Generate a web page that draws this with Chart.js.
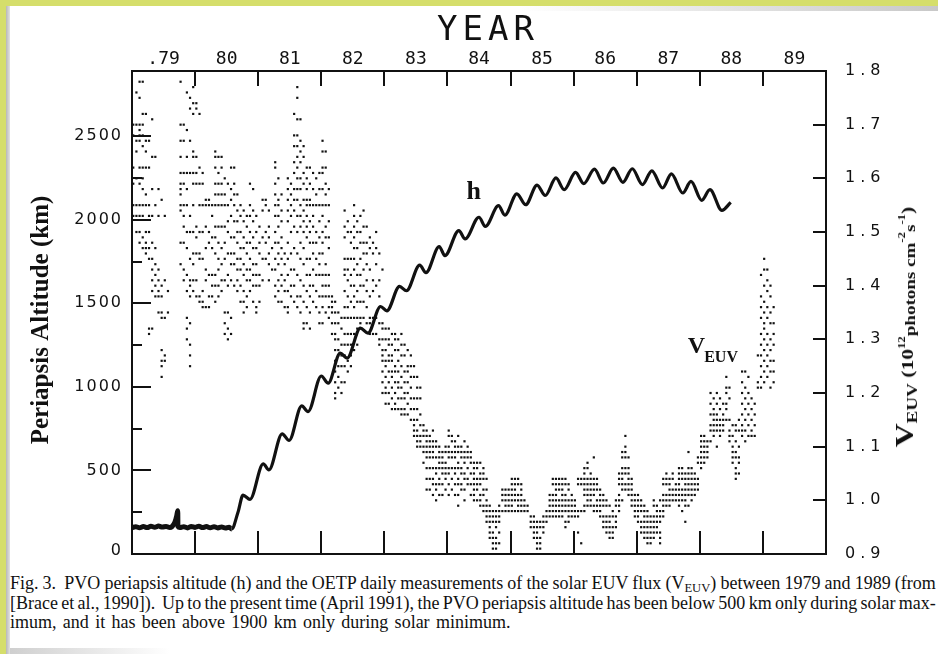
<!DOCTYPE html>
<html>
<head>
<meta charset="utf-8">
<title>PVO periapsis altitude and EUV flux</title>
<script src="https://cdn.jsdelivr.net/npm/chart.js@4.4.1/dist/chart.umd.min.js"></script>
<style>
  html, body { margin: 0; padding: 0; background: #fff; }
  #page { position: relative; width: 938px; height: 654px; overflow: hidden; background: #fff; }
  .edge { position: absolute; background: #d5de6b; }
  #edgeTop { left: 0; top: 0; width: 938px; height: 6px; }
  #edgeLeft { left: 0; top: 0; width: 6px; height: 654px; }
  #shadeLeft { position: absolute; left: 6px; top: 6px; width: 4px; height: 648px; background: linear-gradient(to right, #b8b8b8, #e2e2e2); }
  #shadeTop { position: absolute; left: 520px; top: 6px; width: 418px; height: 5px; background: linear-gradient(to right, rgba(200,200,200,0), #c8c8c8); }
  #shadeBottom { position: absolute; left: 10px; top: 648px; width: 160px; height: 6px; background: linear-gradient(to right, #cfcfcf, rgba(220,220,220,0)); }
  #chart { position: absolute; left: 0; top: 0; }
  #fluxTitle { position: absolute; left: 905px; top: 327px; white-space: nowrap; color: #111;
               font-family: "Liberation Serif", serif; font-weight: bold; font-size: 17px; line-height: 1; }
  #fluxTitle .v { font-size: 26px; }
  #fluxTitle .sb { font-size: 15px; position: relative; top: 4px; }
  #fluxTitle .sp { font-size: 10px; position: relative; top: -8px; }
  #fluxTitle .lo { font-size: 15px; position: relative; top: 2px; }
  #caption { position: absolute; left: 10px; top: 574px; color: #111;
             font-family: "Liberation Serif", serif; font-size: 18px; line-height: 19.5px; }
  #caption .line { width: max-content; white-space: nowrap; }
  #caption sub { font-size: 70%; line-height: 0; vertical-align: -3px; }
</style>
</head>
<body>
<div id="page">
  <div class="edge" id="edgeTop"></div>
  <div class="edge" id="edgeLeft"></div>
  <div id="shadeLeft"></div>
  <div id="shadeTop"></div>
  <div id="shadeBottom"></div>
  <canvas id="chart" width="938" height="566"></canvas>
  <div id="fluxTitle"><span class="v">V</span><span class="sb">EUV</span> (10<span class="sp">12</span><span class="lo">photons cm</span><span class="sp">-2</span><span class="lo">s</span><span class="sp">-1</span>)</div>
  <div id="caption">
    <div class="line" data-width="926">Fig. 3.&nbsp; PVO periapsis altitude (h) and the OETP daily measurements of the solar EUV flux (V<sub>EUV</sub>) between 1979 and 1989 (from</div>
    <div class="line" data-width="926">[Brace et al., 1990]).&nbsp; Up to the present time (April 1991), the PVO periapsis altitude has been below 500 km only during solar max-</div>
    <div class="line" data-width="500">imum, and it has been above 1900 km only during solar minimum.</div>
  </div>
</div>
<script>
// Year axis: tick marks on whole years, labels centred on each year
const yearTicks = [1980, 1981, 1982, 1983, 1984, 1985, 1986, 1987, 1988, 1989];
const yearLabelPos = [1979.5, 1980.5, 1981.5, 1982.5, 1983.5, 1984.5, 1985.5, 1986.5, 1987.5, 1988.5, 1989.5];
const yearLabels = ['.79', '80', '81', '82', '83', '84', '85', '86', '87', '88', '89'];

// Left axis (km) and right axis (10^12 photons cm^-2 s^-1)
const altitudeTicks = [0, 500, 1000, 1500, 2000, 2500];
const altitudeMinor = [250, 750, 1250, 1750, 2250];
const fluxTicks = [0.9, 1.0, 1.1, 1.2, 1.3, 1.4, 1.5, 1.6, 1.7, 1.8];

// Periapsis altitude h: turning points of the curve
const hYears = [
  1979.00, 1979.06, 1979.12, 1979.18, 1979.24, 1979.30, 1979.36, 1979.42, 1979.48, 1979.54, 1979.60,
  1979.63, 1979.68, 1979.71, 1979.725, 1979.728, 1979.76, 1979.82, 1979.88, 1979.94, 1980.00, 1980.06,
  1980.12, 1980.18, 1980.24, 1980.30, 1980.36, 1980.42, 1980.48, 1980.54, 1980.58, 1980.68, 1980.76,
  1980.87, 1981.08, 1981.17, 1981.38, 1981.49, 1981.69, 1981.79, 1982.00, 1982.11, 1982.30, 1982.41,
  1982.62, 1982.74, 1982.94, 1983.04, 1983.24, 1983.35, 1983.56, 1983.66, 1983.87, 1983.96, 1984.18,
  1984.28, 1984.50, 1984.60, 1984.81, 1984.91, 1985.10, 1985.24, 1985.42, 1985.55, 1985.72, 1985.85,
  1986.03, 1986.16, 1986.33, 1986.47, 1986.63, 1986.78, 1986.93, 1987.09, 1987.24, 1987.41, 1987.55,
  1987.73, 1987.86, 1988.03, 1988.16, 1988.35, 1988.49
];
const hKm = [
  158, 163, 157, 164, 158, 166, 160, 167, 161, 165, 158,
  162, 190, 230, 259, 165, 158, 163, 156, 165, 159, 166,
  158, 164, 157, 163, 156, 162, 155, 160, 150, 250, 352,
  327, 539, 503, 719, 679, 886, 852, 1065, 1022, 1202, 1172,
  1351, 1321, 1481, 1455, 1601, 1575, 1728, 1683, 1840, 1785, 1935,
  1885, 2015, 1960, 2084, 2027, 2155, 2090, 2207, 2145, 2250, 2180,
  2283, 2216, 2303, 2220, 2309, 2224, 2305, 2210, 2293, 2190, 2274,
  2160, 2229, 2116, 2180, 2056, 2104
];

// Daily V_EUV readings, grouped by time column
const euvYears = [
  1979.02, 1979.07, 1979.12, 1979.17, 1979.22, 1979.27, 1979.32, 1979.37, 1979.42, 1979.47, 1979.52, 1979.57,
  1979.77, 1979.82, 1979.87, 1979.92, 1979.97, 1980.02, 1980.07, 1980.12, 1980.17, 1980.22, 1980.27, 1980.32,
  1980.37, 1980.42, 1980.47, 1980.52, 1980.57, 1980.62, 1980.67, 1980.72, 1980.77, 1980.82, 1980.87, 1980.92,
  1980.97, 1981.02, 1981.07, 1981.12, 1981.17, 1981.22, 1981.27, 1981.32, 1981.37, 1981.42, 1981.47, 1981.52,
  1981.57, 1981.62, 1981.67, 1981.72, 1981.77, 1981.82, 1981.87, 1981.92, 1981.97, 1982.02, 1982.07, 1982.12,
  1982.17, 1982.22, 1982.27, 1982.32, 1982.37, 1982.42, 1982.47, 1982.52, 1982.57, 1982.62, 1982.67, 1982.72,
  1982.77, 1982.82, 1982.87, 1982.92, 1982.97, 1983.02, 1983.07, 1983.12, 1983.17, 1983.22, 1983.27, 1983.32,
  1983.37, 1983.42, 1983.47, 1983.52, 1983.57, 1983.62, 1983.67, 1983.72, 1983.77, 1983.82, 1983.87, 1983.92,
  1983.97, 1984.02, 1984.07, 1984.12, 1984.17, 1984.22, 1984.27, 1984.32, 1984.37, 1984.42, 1984.47, 1984.52,
  1984.57, 1984.62, 1984.67, 1984.72, 1984.77, 1984.82, 1984.87, 1984.92, 1984.97, 1985.02, 1985.07, 1985.12,
  1985.17, 1985.22, 1985.27, 1985.32, 1985.37, 1985.42, 1985.47, 1985.52, 1985.57, 1985.62, 1985.67, 1985.72,
  1985.77, 1985.82, 1985.87, 1985.92, 1985.97, 1986.02, 1986.07, 1986.12, 1986.17, 1986.22, 1986.27, 1986.32,
  1986.37, 1986.42, 1986.47, 1986.52, 1986.57, 1986.62, 1986.67, 1986.72, 1986.77, 1986.82, 1986.87, 1986.92,
  1986.97, 1987.02, 1987.07, 1987.12, 1987.17, 1987.22, 1987.27, 1987.32, 1987.37, 1987.42, 1987.47, 1987.52,
  1987.57, 1987.62, 1987.67, 1987.72, 1987.77, 1987.82, 1987.87, 1987.92, 1987.97, 1988.02, 1988.07, 1988.12,
  1988.17, 1988.22, 1988.27, 1988.32, 1988.37, 1988.42, 1988.47, 1988.52, 1988.57, 1988.62, 1988.67, 1988.72,
  1988.77, 1988.82, 1988.87, 1988.92, 1988.97, 1989.02, 1989.07, 1989.12, 1989.17
];
const euvFlux = [
  [1.70, 1.68, 1.62, 1.59, 1.55, 1.53],
  [1.76, 1.70, 1.67, 1.65, 1.60, 1.55, 1.53, 1.50],
  [1.78, 1.75, 1.70, 1.69, 1.68, 1.67, 1.62, 1.59, 1.55, 1.53, 1.50, 1.48],
  [1.78, 1.72, 1.70, 1.68, 1.66, 1.62, 1.60, 1.58, 1.55, 1.53, 1.49, 1.47],
  [1.72, 1.67, 1.65, 1.62, 1.57, 1.55, 1.50, 1.48, 1.47, 1.46],
  [1.67, 1.62, 1.55, 1.53, 1.50, 1.47, 1.45, 1.32, 1.31],
  [1.71, 1.64, 1.58, 1.53, 1.48, 1.45, 1.43, 1.41, 1.39, 1.32],
  [1.64, 1.55, 1.47, 1.44, 1.42, 1.40, 1.38],
  [1.58, 1.53, 1.43, 1.41, 1.39, 1.38, 1.35],
  [1.56, 1.40, 1.38, 1.35, 1.34, 1.28, 1.26, 1.25, 1.23],
  [1.53, 1.41, 1.34, 1.27, 1.26],
  [1.39, 1.35],
  [1.78, 1.70, 1.67, 1.64, 1.61, 1.59, 1.58, 1.57, 1.55, 1.54, 1.48, 1.44],
  [1.70, 1.67, 1.61, 1.59, 1.55, 1.53, 1.51, 1.48, 1.43, 1.41],
  [1.76, 1.69, 1.64, 1.61, 1.58, 1.55, 1.50, 1.47, 1.42, 1.39, 1.34, 1.32, 1.30],
  [1.75, 1.73, 1.67, 1.61, 1.53, 1.50, 1.45, 1.41, 1.40, 1.38, 1.33, 1.29, 1.27, 1.25],
  [1.77, 1.74, 1.72, 1.65, 1.64, 1.61, 1.59, 1.55, 1.50, 1.46, 1.44, 1.41, 1.39],
  [1.74, 1.73, 1.64, 1.61, 1.59, 1.51, 1.49, 1.46, 1.41, 1.38],
  [1.72, 1.62, 1.59, 1.55, 1.50, 1.46, 1.45, 1.38, 1.37],
  [1.61, 1.59, 1.55, 1.50, 1.45, 1.39, 1.37, 1.36],
  [1.56, 1.55, 1.51, 1.47, 1.43, 1.41, 1.36],
  [1.56, 1.55, 1.50, 1.48, 1.42, 1.38, 1.36],
  [1.55, 1.53, 1.49, 1.47, 1.42, 1.40, 1.38],
  [1.65, 1.64, 1.62, 1.59, 1.57, 1.55, 1.51, 1.49, 1.46, 1.42, 1.40, 1.37],
  [1.64, 1.61, 1.59, 1.57, 1.55, 1.51, 1.48, 1.45, 1.43, 1.40, 1.38],
  [1.64, 1.62, 1.59, 1.57, 1.55, 1.51, 1.47, 1.44, 1.41, 1.39],
  [1.60, 1.57, 1.55, 1.51, 1.48, 1.45, 1.41, 1.35, 1.33, 1.31],
  [1.59, 1.55, 1.52, 1.50, 1.46, 1.42, 1.40, 1.35, 1.32, 1.30],
  [1.62, 1.58, 1.56, 1.53, 1.49, 1.46, 1.44, 1.41, 1.34, 1.31],
  [1.62, 1.59, 1.57, 1.55, 1.52, 1.49, 1.46, 1.44, 1.40],
  [1.57, 1.54, 1.52, 1.50, 1.48, 1.45, 1.43, 1.41, 1.39],
  [1.55, 1.53, 1.50, 1.47, 1.45, 1.43, 1.40, 1.37],
  [1.54, 1.52, 1.49, 1.47, 1.44, 1.42, 1.39, 1.37, 1.35],
  [1.53, 1.51, 1.48, 1.46, 1.43, 1.41, 1.38, 1.36],
  [1.59, 1.55, 1.53, 1.50, 1.48, 1.45, 1.43, 1.41, 1.39],
  [1.58, 1.54, 1.52, 1.49, 1.47, 1.44, 1.42, 1.40, 1.37],
  [1.53, 1.50, 1.47, 1.44, 1.42, 1.40, 1.36, 1.35],
  [1.51, 1.48, 1.46, 1.42, 1.40, 1.37],
  [1.56, 1.54, 1.49, 1.45, 1.41],
  [1.56, 1.55, 1.50, 1.48, 1.45],
  [1.54, 1.51, 1.49, 1.46, 1.44, 1.41],
  [1.47, 1.43],
  [1.63, 1.62, 1.59, 1.57, 1.55, 1.53, 1.50, 1.48, 1.45, 1.43, 1.40, 1.38],
  [1.60, 1.56, 1.55, 1.53, 1.51, 1.48, 1.46, 1.44, 1.41, 1.39, 1.37],
  [1.57, 1.54, 1.52, 1.49, 1.47, 1.45, 1.42, 1.40, 1.37],
  [1.46, 1.44, 1.41, 1.39, 1.36],
  [1.60, 1.58, 1.56, 1.54, 1.52, 1.48, 1.45, 1.42, 1.39, 1.36, 1.35],
  [1.59, 1.57, 1.55, 1.53, 1.50, 1.46, 1.43, 1.40, 1.38],
  [1.72, 1.68, 1.66, 1.63, 1.61, 1.58, 1.56, 1.54, 1.51, 1.47, 1.43, 1.40, 1.37],
  [1.77, 1.75, 1.71, 1.68, 1.66, 1.64, 1.62, 1.60, 1.58, 1.56, 1.53, 1.50, 1.46, 1.42, 1.38, 1.36],
  [1.71, 1.67, 1.65, 1.63, 1.60, 1.58, 1.55, 1.53, 1.51, 1.48, 1.45, 1.41, 1.38, 1.35],
  [1.66, 1.64, 1.61, 1.59, 1.56, 1.54, 1.52, 1.50, 1.47, 1.44, 1.40, 1.37, 1.33, 1.32],
  [1.62, 1.60, 1.58, 1.56, 1.55, 1.53, 1.51, 1.49, 1.45, 1.42, 1.39, 1.36, 1.33],
  [1.62, 1.59, 1.56, 1.55, 1.52, 1.50, 1.48, 1.45, 1.42, 1.40, 1.38, 1.35, 1.32],
  [1.61, 1.58, 1.55, 1.53, 1.51, 1.48, 1.46, 1.43, 1.40, 1.37],
  [1.60, 1.57, 1.55, 1.50, 1.48, 1.45, 1.42, 1.39, 1.36],
  [1.61, 1.58, 1.55, 1.52, 1.49, 1.46, 1.44, 1.42, 1.38, 1.35, 1.33],
  [1.67, 1.65, 1.62, 1.61, 1.58, 1.55, 1.53, 1.50, 1.48, 1.46, 1.42, 1.40, 1.38, 1.36, 1.33],
  [1.65, 1.62, 1.59, 1.57, 1.55, 1.51, 1.49, 1.44, 1.42, 1.40, 1.38, 1.35],
  [1.58, 1.55, 1.52, 1.49, 1.47, 1.42, 1.40, 1.38, 1.36, 1.34],
  [1.38, 1.37, 1.36, 1.35, 1.33, 1.31],
  [1.37, 1.35, 1.33, 1.31, 1.30, 1.28, 1.26, 1.24, 1.22, 1.20, 1.19],
  [1.35, 1.33, 1.30, 1.28, 1.27, 1.25, 1.23, 1.21],
  [1.34, 1.32, 1.29, 1.27, 1.25, 1.22, 1.20],
  [1.54, 1.51, 1.49, 1.45, 1.43, 1.42, 1.39, 1.36, 1.34, 1.31, 1.29, 1.27, 1.25, 1.22],
  [1.52, 1.50, 1.45, 1.43, 1.41, 1.38, 1.36, 1.34, 1.31, 1.29, 1.26, 1.24],
  [1.50, 1.48, 1.45, 1.42, 1.40, 1.37, 1.34, 1.31, 1.29, 1.27, 1.25],
  [1.55, 1.53, 1.51, 1.49, 1.47, 1.45, 1.43, 1.40, 1.38, 1.36, 1.34, 1.31, 1.28],
  [1.52, 1.50, 1.47, 1.44, 1.42, 1.39, 1.37, 1.34, 1.32, 1.29],
  [1.53, 1.50, 1.48, 1.45, 1.42, 1.40, 1.37, 1.34, 1.33],
  [1.54, 1.51, 1.48, 1.46, 1.43, 1.40, 1.37, 1.34],
  [1.51, 1.48, 1.46, 1.44, 1.41, 1.39, 1.36, 1.33],
  [1.49, 1.47, 1.43, 1.38, 1.34, 1.33, 1.31],
  [1.48, 1.46, 1.41, 1.39, 1.34, 1.31],
  [1.50, 1.47, 1.44, 1.40, 1.34, 1.31],
  [1.46, 1.41, 1.38, 1.33, 1.30, 1.29],
  [1.43, 1.33, 1.32, 1.30, 1.28, 1.27, 1.26, 1.24, 1.22, 1.20],
  [1.32, 1.30, 1.28, 1.26, 1.25, 1.23, 1.21, 1.20, 1.18],
  [1.32, 1.30, 1.29, 1.27, 1.26, 1.24, 1.22, 1.20, 1.18],
  [1.31, 1.29, 1.27, 1.26, 1.24, 1.23, 1.21, 1.19, 1.17],
  [1.31, 1.30, 1.28, 1.25, 1.24, 1.22, 1.20, 1.18, 1.17],
  [1.30, 1.28, 1.26, 1.24, 1.22, 1.21, 1.19, 1.17],
  [1.31, 1.29, 1.27, 1.25, 1.23, 1.21, 1.19, 1.17, 1.16],
  [1.29, 1.27, 1.24, 1.22, 1.20, 1.19, 1.17, 1.16],
  [1.28, 1.25, 1.24, 1.22, 1.20, 1.18, 1.16],
  [1.27, 1.25, 1.23, 1.21, 1.19, 1.17, 1.15],
  [1.25, 1.23, 1.19, 1.17, 1.15, 1.14, 1.13, 1.12],
  [1.23, 1.21, 1.19, 1.17, 1.15, 1.13, 1.12, 1.11, 1.10],
  [1.21, 1.19, 1.16, 1.14, 1.12, 1.11, 1.10],
  [1.14, 1.13, 1.12, 1.10, 1.09, 1.07],
  [1.13, 1.12, 1.11, 1.10, 1.09, 1.08, 1.06, 1.04, 1.02],
  [1.12, 1.11, 1.10, 1.09, 1.08, 1.06, 1.04, 1.02],
  [1.13, 1.11, 1.10, 1.09, 1.08, 1.06, 1.04, 1.03, 1.01],
  [1.11, 1.10, 1.08, 1.06, 1.05, 1.03, 1.02, 1.00],
  [1.10, 1.09, 1.08, 1.07, 1.06, 1.04, 1.03, 1.01],
  [1.09, 1.08, 1.07, 1.06, 1.05, 1.03, 1.01],
  [1.10, 1.09, 1.07, 1.06, 1.05, 1.04, 1.02],
  [1.13, 1.12, 1.10, 1.09, 1.08, 1.06, 1.05, 1.03, 1.01],
  [1.12, 1.11, 1.09, 1.08, 1.06, 1.04, 1.02],
  [1.11, 1.10, 1.09, 1.08, 1.06, 1.05, 1.03, 1.01],
  [1.12, 1.10, 1.09, 1.07, 1.06, 1.04, 1.03, 1.01, 0.99],
  [1.10, 1.09, 1.08, 1.06, 1.05, 1.03, 1.02],
  [1.11, 1.09, 1.08, 1.07, 1.05, 1.04, 1.02, 1.00],
  [1.10, 1.09, 1.08, 1.06, 1.04, 1.03],
  [1.09, 1.08, 1.07, 1.05, 1.03, 1.01],
  [1.07, 1.06, 1.05, 1.04, 1.03, 1.02, 1.01, 1.00],
  [1.07, 1.06, 1.04, 1.03, 1.02, 1.00],
  [1.07, 1.05, 1.04, 1.03, 1.01, 1.00, 0.99],
  [1.06, 1.05, 1.04, 1.02, 1.01, 0.99, 0.98],
  [1.04, 1.02, 1.00, 0.99, 0.98, 0.97, 0.96],
  [0.99, 0.98, 0.97, 0.96, 0.95, 0.94, 0.93],
  [0.98, 0.97, 0.96, 0.94, 0.93, 0.92, 0.91],
  [0.98, 0.97, 0.96, 0.95, 0.93, 0.92, 0.91],
  [0.99, 0.98, 0.97, 0.96, 0.94, 0.92],
  [1.02, 1.01, 1.00, 0.98],
  [1.02, 1.01, 1.00, 0.99, 0.98],
  [1.02, 1.01, 1.00, 0.99, 0.98],
  [1.04, 1.03, 1.02, 1.01, 1.00, 0.99, 0.98],
  [1.04, 1.03, 1.02, 1.01, 1.00, 0.98],
  [1.04, 1.03, 1.01, 1.00, 0.99, 0.98],
  [1.03, 1.02, 1.01, 1.00, 0.99, 0.98],
  [1.00, 0.99, 0.98],
  [0.99, 0.98],
  [0.97, 0.96, 0.95],
  [0.97, 0.96, 0.95, 0.94, 0.93],
  [0.96, 0.95, 0.94, 0.93, 0.92, 0.91],
  [0.96, 0.95, 0.93, 0.92, 0.91],
  [0.97, 0.96, 0.95, 0.94],
  [0.98, 0.97, 0.96],
  [1.01, 1.00, 0.99, 0.98, 0.97],
  [1.04, 1.03, 1.01, 1.00, 0.99, 0.98, 0.97],
  [1.04, 1.03, 1.02, 1.01, 1.00, 0.99, 0.98, 0.97],
  [1.04, 1.03, 1.02, 1.00, 0.99, 0.98, 0.97],
  [1.04, 1.03, 1.02, 1.01, 1.00, 0.99, 0.98, 0.97],
  [1.04, 1.03, 1.01, 1.00, 0.99, 0.98, 0.96, 0.95],
  [1.03, 1.02, 1.00, 0.99, 0.98, 0.97, 0.96],
  [1.01, 1.00, 0.99, 0.98, 0.97],
  [1.00, 0.99, 0.98, 0.97],
  [1.04, 1.03, 0.98, 0.97, 0.94],
  [1.04, 1.03, 0.98, 0.92],
  [1.06, 1.05, 1.04, 1.03, 1.02, 1.01, 0.99, 0.98],
  [1.07, 1.06, 1.04, 1.03, 1.02, 1.01, 1.00, 0.99],
  [1.05, 1.04, 1.03, 1.02, 1.01, 1.00, 0.99],
  [1.08, 1.04, 1.03, 1.02, 1.01, 0.99, 0.98],
  [1.04, 1.03, 1.02, 1.00, 0.99, 0.98],
  [1.02, 1.01, 1.00, 0.99, 0.98, 0.97],
  [1.01, 1.00, 0.99, 0.97, 0.96, 0.95],
  [1.00, 0.99, 0.97, 0.96, 0.95, 0.94],
  [0.99, 0.97, 0.96, 0.95, 0.94, 0.93],
  [0.98, 0.97, 0.95, 0.94, 0.93],
  [1.00, 0.99, 0.97, 0.96, 0.95],
  [1.05, 1.04, 1.03, 1.01, 1.00, 0.99, 0.98],
  [1.09, 1.08, 1.06, 1.05, 1.04, 1.03, 1.02, 1.00],
  [1.12, 1.10, 1.09, 1.08, 1.06, 1.05, 1.03, 1.02],
  [1.08, 1.06, 1.05, 1.04, 1.03, 1.02, 1.01],
  [1.04, 1.03, 1.02, 1.01, 1.00, 0.99],
  [1.01, 1.00, 0.99, 0.98, 0.97],
  [1.01, 1.00, 0.99, 0.98, 0.97, 0.96],
  [1.00, 0.99, 0.98, 0.96, 0.95, 0.94],
  [0.99, 0.98, 0.97, 0.96, 0.95, 0.94, 0.93],
  [0.98, 0.97, 0.96, 0.95, 0.94, 0.93, 0.92],
  [0.97, 0.96, 0.95, 0.94, 0.93, 0.92],
  [1.00, 0.99, 0.97, 0.96, 0.95, 0.94, 0.93],
  [0.99, 0.98, 0.97, 0.96, 0.95, 0.94],
  [1.00, 0.98, 0.97, 0.96, 0.94, 0.93, 0.92],
  [1.04, 1.03, 1.01, 1.00, 0.99, 0.98, 0.97],
  [1.05, 1.04, 1.03, 1.01, 1.00, 0.99],
  [1.04, 1.03, 1.02, 1.01, 1.00, 0.99],
  [1.05, 1.04, 1.02, 1.01, 1.00],
  [1.03, 1.02, 1.01, 1.00],
  [1.06, 1.05, 1.04, 1.03, 1.02, 1.01, 1.00, 0.99],
  [1.06, 1.05, 1.04, 1.02, 1.01, 1.00, 0.98],
  [1.05, 1.04, 1.03, 1.02, 1.01, 1.00, 0.99, 0.96],
  [1.09, 1.06, 1.05, 1.04, 1.03, 1.02, 1.01, 0.99],
  [1.06, 1.05, 1.04, 1.03, 1.02, 1.01, 1.00],
  [1.05, 1.04, 1.03, 1.02, 1.01],
  [1.08, 1.07, 1.04, 1.03, 1.02],
  [1.12, 1.11, 1.10, 1.09, 1.08, 1.07, 1.06],
  [1.12, 1.11, 1.10, 1.09, 1.08, 1.07],
  [1.11, 1.10, 1.09, 1.08],
  [1.20, 1.18, 1.16, 1.14, 1.13, 1.11],
  [1.19, 1.17, 1.16, 1.15, 1.14, 1.13, 1.12],
  [1.20, 1.18, 1.16, 1.15, 1.14, 1.13, 1.10],
  [1.19, 1.17, 1.15, 1.14, 1.13, 1.12],
  [1.18, 1.16, 1.15, 1.14, 1.13],
  [1.23, 1.21, 1.20, 1.18, 1.17, 1.15],
  [1.21, 1.19, 1.15, 1.13, 1.12, 1.11],
  [1.14, 1.12, 1.10, 1.09, 1.08, 1.07],
  [1.14, 1.13, 1.11, 1.09, 1.08, 1.06, 1.05, 1.04],
  [1.15, 1.13, 1.10, 1.08, 1.07, 1.05],
  [1.24, 1.22, 1.20, 1.18, 1.16, 1.14, 1.13, 1.12],
  [1.24, 1.21, 1.19, 1.17, 1.15, 1.13, 1.11],
  [1.23, 1.20, 1.18, 1.16, 1.14, 1.12],
  [1.19, 1.17, 1.15, 1.13, 1.12],
  [1.18, 1.16, 1.14, 1.12],
  [1.27, 1.22, 1.21],
  [1.42, 1.38, 1.36, 1.34, 1.31, 1.29, 1.27, 1.25, 1.23, 1.21],
  [1.45, 1.43, 1.40, 1.37, 1.35, 1.33, 1.32, 1.30, 1.28, 1.26, 1.24, 1.22],
  [1.43, 1.41, 1.39, 1.36, 1.34, 1.31, 1.29, 1.27, 1.25, 1.23],
  [1.40, 1.38, 1.35, 1.33, 1.30, 1.28, 1.26, 1.24, 1.21],
  [1.36, 1.33, 1.31, 1.29, 1.26, 1.24, 1.22]
];

// Where the curve names sit, in axis units
const hLabelAt = { x: 1984.30, y: 2125 };
const euvLabelAt = { x: 1987.81, y: 1.275 };

// Plot frame in canvas pixels
const FRAME = { left: 132, right: 826, top: 71, bottom: 554 };
const INK = '#111';

const hPoints = hYears.map((x, i) => ({ x, y: hKm[i] }));
const euvPoints = [];
euvYears.forEach((x, i) => euvFlux[i].forEach(y => euvPoints.push({ x, y })));

const canvas = document.getElementById('chart');

// Axis titles, inward tick marks, tick labels on the side axes and the curve names
const frameMarks = {
  id: 'frameMarks',
  afterDraw(chart) {
    const { ctx, chartArea: a, scales } = chart;
    ctx.save();
    ctx.strokeStyle = INK;
    ctx.lineWidth = 2;
    ctx.beginPath();
    yearTicks.forEach(v => {
      const px = Math.round(scales.x.getPixelForValue(v));
      ctx.moveTo(px, a.top); ctx.lineTo(px, a.top + 15);
      ctx.moveTo(px, a.bottom); ctx.lineTo(px, a.bottom - 23);
    });
    altitudeTicks.slice(1).forEach(v => {
      const py = Math.round(scales.y.getPixelForValue(v));
      ctx.moveTo(a.left, py); ctx.lineTo(a.left + 19, py);
    });
    altitudeMinor.forEach(v => {
      const py = Math.round(scales.y.getPixelForValue(v));
      ctx.moveTo(a.left, py); ctx.lineTo(a.left + 10, py);
    });
    fluxTicks.slice(1, -1).forEach(v => {
      const py = Math.round(scales.y2.getPixelForValue(v));
      ctx.moveTo(a.right, py); ctx.lineTo(a.right - 13, py);
    });
    ctx.stroke();

    ctx.fillStyle = INK;
    ctx.textBaseline = 'middle';

    // top title
    ctx.font = '34px "DejaVu Sans Mono"';
    ctx.letterSpacing = '5px';
    ctx.textAlign = 'center';
    ctx.fillText('YEAR', (a.left + a.right) / 2 + 9, 31);

    // left-hand tick labels
    ctx.font = '16px "DejaVu Sans"';
    ctx.letterSpacing = '2px';
    ctx.textAlign = 'right';
    altitudeTicks.forEach(v => {
      ctx.fillText(String(v), a.left - 9, scales.y.getPixelForValue(v) - (v === 0 ? 3 : 0));
    });

    // right-hand tick labels
    ctx.letterSpacing = '5px';
    ctx.textAlign = 'left';
    fluxTicks.forEach(v => {
      ctx.fillText(v.toFixed(1), a.right + 19, scales.y2.getPixelForValue(v));
    });
    ctx.letterSpacing = '0px';

    // left axis title
    ctx.save();
    ctx.translate(42, 320);
    ctx.rotate(-Math.PI / 2);
    ctx.textAlign = 'center';
    ctx.font = 'bold 25px "Liberation Serif"';
    ctx.fillText('Periapsis Altitude (km)', 0, 0);
    ctx.restore();

    // curve names
    ctx.textAlign = 'left';
    ctx.textBaseline = 'alphabetic';
    ctx.font = 'bold 26px "Liberation Serif"';
    ctx.fillText('h', scales.x.getPixelForValue(hLabelAt.x), scales.y.getPixelForValue(hLabelAt.y));
    const vx = scales.x.getPixelForValue(euvLabelAt.x);
    const vy = scales.y2.getPixelForValue(euvLabelAt.y);
    ctx.font = 'bold 24px "Liberation Serif"';
    ctx.fillText('V', vx, vy);
    const vw = ctx.measureText('V').width;
    ctx.font = 'bold 16px "Liberation Serif"';
    ctx.fillText('EUV', vx + vw - 1, vy + 9);
    ctx.restore();
  }
};

new Chart(canvas, {
  type: 'scatter',
  data: {
    datasets: [
      {
        label: 'h',
        data: hPoints,
        showLine: true,
        xAxisID: 'x',
        yAxisID: 'y',
        borderColor: INK,
        borderWidth: 3.2,
        pointRadius: 0,
        cubicInterpolationMode: 'monotone',
        // the flat early stretch is drawn heavier
        segment: { borderWidth: c => (c.p1.parsed.x <= 1980.58 ? 5 : undefined) }
      },
      {
        label: 'VEUV',
        data: euvPoints,
        xAxisID: 'x',
        yAxisID: 'y2',
        pointStyle: 'rect',
        pointRadius: 1.55,
        backgroundColor: INK,
        borderWidth: 0
      }
    ]
  },
  options: {
    responsive: false,
    animation: false,
    devicePixelRatio: 1,
    events: [],
    layout: { padding: 0 },
    plugins: { legend: { display: false }, tooltip: { enabled: false } },
    scales: {
      x: {
        type: 'linear',
        position: 'top',
        min: 1979,
        max: 1990,
        afterBuildTicks: s => { s.ticks = yearLabelPos.map(v => ({ value: v })); },
        afterFit: s => { s.height = FRAME.top; },
        ticks: {
          callback: (v, i) => yearLabels[i],
          font: { family: 'DejaVu Sans Mono', size: 18 },
          color: INK,
          padding: 1,
          maxRotation: 0,
          autoSkip: false
        },
        grid: { display: false, drawTicks: false },
        border: { display: true, color: INK, width: 2 }
      },
      xb: {
        type: 'linear',
        position: 'bottom',
        min: 1979,
        max: 1990,
        afterFit: s => { s.height = canvas.height - FRAME.bottom; },
        ticks: { display: false },
        grid: { display: false, drawTicks: false },
        border: { display: true, color: INK, width: 2 }
      },
      y: {
        type: 'linear',
        position: 'left',
        min: 0,
        max: 2890,
        afterFit: s => { s.width = FRAME.left; },
        ticks: { display: false },
        grid: { display: false, drawTicks: false },
        border: { display: true, color: INK, width: 2 }
      },
      y2: {
        type: 'linear',
        position: 'right',
        min: 0.9,
        max: 1.8,
        afterFit: s => { s.width = canvas.width - FRAME.right; },
        ticks: { display: false },
        grid: { display: false, drawTicks: false },
        border: { display: true, color: INK, width: 2 }
      }
    }
  },
  plugins: [frameMarks]
});

// Right-hand axis title: stretch along its length to the span of the axis
const fluxTitle = document.getElementById('fluxTitle');
const titleLen = fluxTitle.offsetWidth;
fluxTitle.style.transform = 'translate(-50%, -50%) rotate(-90deg) scaleX(' + (240 / titleLen) + ')';

// Caption lines set out to their measured widths
document.querySelectorAll('#caption .line').forEach(line => {
  const gaps = (line.textContent.match(/[ \u00a0]/g) || []).length;
  const extra = (Number(line.dataset.width) - line.offsetWidth) / gaps;
  line.style.wordSpacing = extra + 'px';
});
</script>
</body>
</html>
